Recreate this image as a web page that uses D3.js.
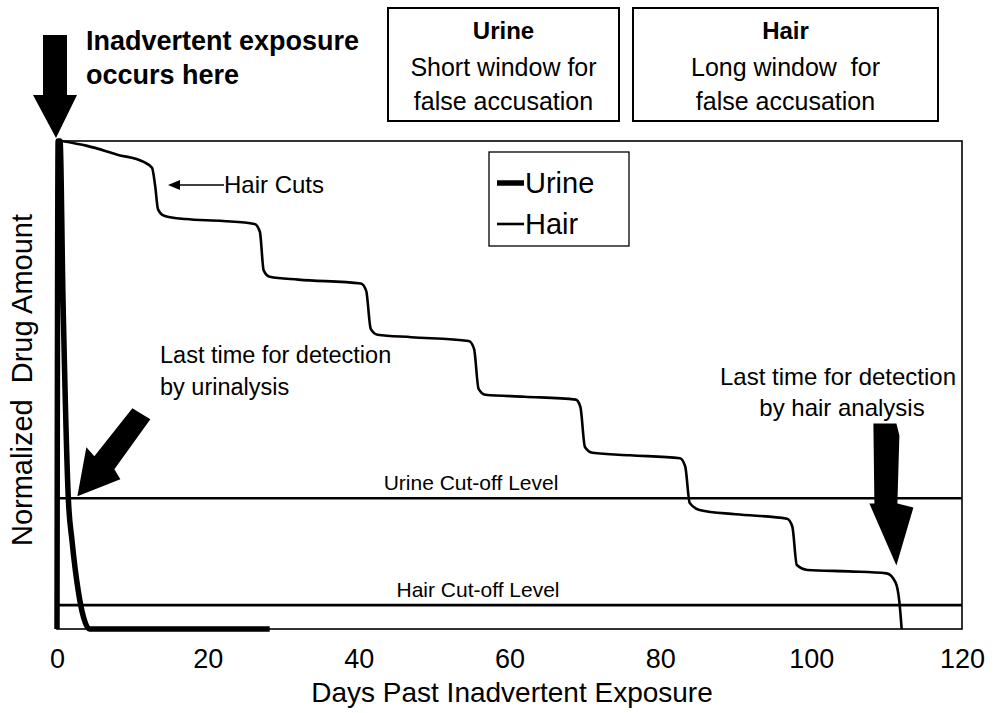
<!DOCTYPE html>
<html>
<head>
<meta charset="utf-8">
<script src="https://cdn.jsdelivr.net/npm/d3@7"></script>
<style>
  body { margin: 0; background: #fff; }
  text { font-family: "Liberation Sans", Arial, sans-serif; fill: #000; }
</style>
</head>
<body>
<div class="canva"></div>
<script>
// days vs normalized drug amount
const urineDays = [0, 0.15, 0.4, 0.8, 1.5, 2.0, 2.8, 3.5, 4.3, 28.2];
const urineVals = [0, 1.0, 1.0, 0.674, 0.268, 0.18, 0.08, 0.025, 0, 0];

const hairDays = [0.6, 4, 8, 11.5, 12.6, 13.0, 13.4, 14.2, 17, 22, 26.2, 26.9, 27.4, 28.2, 32, 40.3, 41.0, 41.6, 42.5, 47,
  54.6, 55.3, 55.9, 56.8, 62, 68.8, 69.4, 70.0, 71, 76, 82.6, 83.3, 83.9, 85.2, 90, 96.8, 97.5, 98.1, 99.5, 105, 110, 111.2, 111.7, 112];
const hairVals = [1.0, 0.99, 0.972, 0.957, 0.945, 0.91, 0.86, 0.847, 0.840, 0.836, 0.830, 0.814, 0.735, 0.722, 0.716, 0.708, 0.693, 0.615, 0.603, 0.598,
  0.590, 0.574, 0.492, 0.480, 0.476, 0.470, 0.455, 0.373, 0.361, 0.356, 0.350, 0.333, 0.258, 0.244, 0.235, 0.226, 0.210, 0.131, 0.121, 0.118, 0.114, 0.095, 0.055, 0.0];

const cutoffNames = ["Urine Cut-off Level", "Hair Cut-off Level"];
const cutoffVals = [0.268, 0.049];

const xTicks = [0, 20, 40, 60, 80, 100, 120];

const svg = d3.select(".canva").append("svg")
  .attr("width", 994)
  .attr("height", 713);

const x = d3.scaleLinear().domain([0, 120]).range([57, 962]);
const y = d3.scaleLinear().domain([0, 1]).range([629, 141]);

// frame
svg.append("rect")
  .attr("x", x(0)).attr("y", y(1))
  .attr("width", x(120) - x(0)).attr("height", y(0) - y(1))
  .attr("fill", "none").attr("stroke", "#000").attr("stroke-width", 1.6);

// x axis labels
const xAxis = d3.axisBottom(x).tickValues(xTicks).tickSize(0).tickPadding(20);
const gx = svg.append("g")
  .attr("transform", `translate(0, ${y(0)})`)
  .call(xAxis);
gx.select(".domain").remove();
gx.selectAll("text")
  .style("font-family", "Liberation Sans, Arial, sans-serif")
  .style("font-size", "27px");

svg.append("text")
  .attr("x", 512).attr("y", 702)
  .attr("text-anchor", "middle")
  .style("font-size", "28px")
  .text("Days Past Inadvertent Exposure");

svg.append("text")
  .attr("transform", "translate(32, 380) rotate(-90)")
  .attr("text-anchor", "middle")
  .style("font-size", "29px")
  .style("white-space", "pre")
  .text("Normalized  Drug Amount");

// cut-off lines
cutoffVals.forEach((v, i) => {
  svg.append("line")
    .attr("x1", x(0)).attr("x2", x(120))
    .attr("y1", y(v)).attr("y2", y(v))
    .attr("stroke", "#000").attr("stroke-width", 2.6);
  svg.append("text")
    .attr("x", i === 0 ? 471 : 478).attr("y", y(v) - 8)
    .attr("text-anchor", "middle")
    .style("font-size", "21px")
    .text(cutoffNames[i]);
});

// curves
const line = d3.line()
  .x(d => x(d[0]))
  .y(d => y(d[1]))
  .curve(d3.curveMonotoneX);

svg.append("path")
  .datum(hairDays.map((d, i) => [d, hairVals[i]]))
  .attr("d", line)
  .attr("fill", "none").attr("stroke", "#000").attr("stroke-width", 2.6)
  .attr("stroke-linejoin", "round");

svg.append("path")
  .datum(urineDays.map((d, i) => [d, urineVals[i]]))
  .attr("d", line)
  .attr("fill", "none").attr("stroke", "#000").attr("stroke-width", 5.5)
  .attr("stroke-linejoin", "round");

// legend
svg.append("rect")
  .attr("x", 489).attr("y", 152).attr("width", 140).attr("height", 94)
  .attr("fill", "#fff").attr("stroke", "#000").attr("stroke-width", 1.3);
const legend = [["Urine", 5.5, 183], ["Hair", 2.6, 224]];
legend.forEach(l => {
  svg.append("line")
    .attr("x1", 497).attr("x2", 524).attr("y1", l[2]).attr("y2", l[2])
    .attr("stroke", "#000").attr("stroke-width", l[1]);
  svg.append("text")
    .attr("x", 525).attr("y", l[2] + 10)
    .style("font-size", "29px")
    .text(l[0]);
});

// top boxes
const boxes = [
  {x0: 388, x1: 619, title: "Urine", lines: ["Short window for", "false accusation"]},
  {x0: 633, x1: 938, title: "Hair", lines: ["Long window  for", "false accusation"]}
];
boxes.forEach(b => {
  svg.append("rect")
    .attr("x", b.x0).attr("y", 8).attr("width", b.x1 - b.x0).attr("height", 113)
    .attr("fill", "#fff").attr("stroke", "#000").attr("stroke-width", 2);
  const cx = (b.x0 + b.x1) / 2;
  svg.append("text").attr("x", cx).attr("y", 39).attr("text-anchor", "middle")
    .style("font-size", "24px").style("font-weight", "bold").text(b.title);
  b.lines.forEach((t, i) => {
    svg.append("text").attr("x", cx).attr("y", 76 + i * 34).attr("text-anchor", "middle")
      .style("font-size", "25px").style("white-space", "pre").text(t);
  });
});

// annotations
svg.append("text").attr("x", 86).attr("y", 50)
  .style("font-size", "27px").style("font-weight", "bold").text("Inadvertent exposure");
svg.append("text").attr("x", 86).attr("y", 84)
  .style("font-size", "27px").style("font-weight", "bold").text("occurs here");

// arrow shapes: offsets in px relative to the tip
function arrow(tx, ty, pts) {
  svg.append("path")
    .attr("d", "M" + pts.map(p => [tx + p[0], ty + p[1]].join(",")).join("L") + "Z")
    .attr("fill", "#000");
}
// exposure arrow, tip at day 0, top of frame
arrow(x(0) - 1, y(1) - 3, [[0, 0], [-23, -43], [-13, -43], [-13, -103], [11, -103], [11, -43], [21, -43]]);
// urinalysis arrow, tip on the urine cut-off
arrow(x(2.7), y(0.268) - 2, [[0, 0], [9, -49], [17, -40], [55, -88], [73, -77], [37, -27], [43, -17]]);
// hair analysis arrow, tip near day 112
arrow(x(111.3), y(0.13), [[0, 0], [-27, -62], [-22, -62], [-23, -142], [0, -142], [3, -130], [1, -62], [17, -58]]);

// hair cuts label
svg.append("line").attr("x1", 224).attr("x2", 178).attr("y1", 185).attr("y2", 185)
  .attr("stroke", "#000").attr("stroke-width", 1.5);
svg.append("path").attr("d", "M168,185L180,180L180,190Z").attr("fill", "#000");
svg.append("text").attr("x", 224).attr("y", 193).style("font-size", "24px").text("Hair Cuts");

svg.append("text").attr("x", 160).attr("y", 363).style("font-size", "23.5px").text("Last time for detection");
svg.append("text").attr("x", 160).attr("y", 395).style("font-size", "23.5px").text("by urinalysis");

svg.append("text").attr("x", 838).attr("y", 385).attr("text-anchor", "middle").style("font-size", "24px").text("Last time for detection");
svg.append("text").attr("x", 842).attr("y", 416).attr("text-anchor", "middle").style("font-size", "24px").text("by hair analysis");
</script>
</body>
</html>
